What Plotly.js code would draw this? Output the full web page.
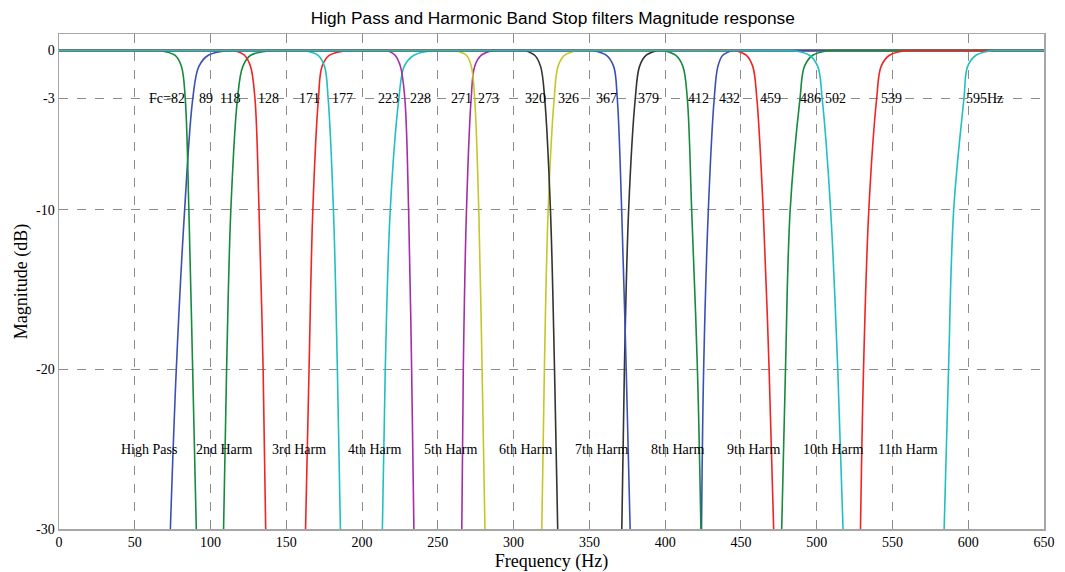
<!DOCTYPE html>
<html>
<head>
<meta charset="utf-8">
<script src="https://cdn.plot.ly/plotly-3.0.1.min.js"></script>
<style>html,body{margin:0;padding:0;background:#fff;}#chart{width:1065px;height:572px;}</style>
</head>
<body>
<div id="chart"></div>
<script>
const levels = [0, -0.3, -1, -3, -10, -20, -30];

// Edge frequencies (Hz) at the levels above (order: 0 dB -> -30 dB)
const hpRise   = [111.5, 98.5, 92.3, 88.3, 82.9, 77.4, 73.5];
const h2Fall   = [66, 76.5, 80.8, 83.3, 85.7, 88.2, 90.6];
const h2Rise   = [143, 126.5, 121.3, 117.8, 113.4, 110.6, 108.6];
const h3Fall   = [116, 122.4, 126.4, 129.3, 132, 134.7, 136.4];
const h3Rise   = [190.6, 178.5, 173.6, 171.2, 167.5, 165, 162.7];
const h4Fall   = [162, 170.8, 175.2, 177.6, 181.1, 183.7, 185.7];
const h4Rise   = [246.8, 234.2, 227.8, 224.3, 218.6, 215.3, 213.4];
const h5Fall   = [217, 221.8, 225.3, 228.2, 230.7, 232.7, 234.2];
const h5Rise   = [286.4, 278.7, 274.3, 272, 268.9, 266.8, 265.8];
const h6Fall   = [261, 268.8, 272.1, 274.3, 277, 279.2, 281.1];
const h6Rise   = [342.4, 333.7, 329.3, 326.8, 322.8, 320.3, 318.6];
const h7Fall   = [307.3, 313.9, 317.8, 320.5, 324.3, 327, 329.1];
const h7Rise   = [395.2, 387.5, 383.1, 380.3, 375.9, 373.1, 371.4];
const h8Fall   = [352.3, 361.1, 366, 368.4, 371.3, 374.3, 376.9];
const h8Rise   = [444.6, 438, 434.8, 432.4, 428.5, 425.4, 424];
const h9Fall   = [398.5, 406.9, 411.7, 414.6, 417.5, 421.3, 423.6];
const h9Rise   = [508.4, 497.4, 491.9, 489, 482.5, 479.4, 476.9];
const h10Fall  = [445.8, 453.5, 457.8, 460.5, 464.7, 468.6, 471.6];
const h10Rise  = [559, 548, 542.5, 539.6, 534.4, 530.9, 528.9];
const h11Fall  = [484.2, 495.2, 500.7, 503.6, 509.2, 513.9, 517.4];
const h11Rise  = [616.1, 605.1, 599.6, 597.2, 590.4, 587, 584.1];

const filterNames = ['High Pass', '2nd Harm', '3rd Harm', '4th Harm', '5th Harm', '6th Harm',
                     '7th Harm', '8th Harm', '9th Harm', '10th Harm', '11th Harm'];
const harmonicHz = [50, 100, 150, 200, 250, 300, 350, 400, 450, 500, 550];
const fallEdges = [null, h2Fall, h3Fall, h4Fall, h5Fall, h6Fall, h7Fall, h8Fall, h9Fall, h10Fall, h11Fall];
const riseEdges = [hpRise, h2Rise, h3Rise, h4Rise, h5Rise, h6Rise, h7Rise, h8Rise, h9Rise, h10Rise, h11Rise];

const fcValues = [82, 89, 118, 128, 171, 177, 223, 228, 271, 273, 320, 326, 367, 379, 412, 432, 459, 486, 502, 539, 595];
const fcLabels = ['Fc=82', '89', '118', '128', '171', '177', '223', '228', '271', '273', '320', '326',
                  '367', '379', '412', '432', '459', '486', '502', '539', '595Hz'];

const xTicks = [0, 50, 100, 150, 200, 250, 300, 350, 400, 450, 500, 550, 600, 650];
const yTicks = [0, -3, -10, -20, -30];
const yTickText = ['0', '-3', '-10', '-20', '-30'];

const colors = ['#3b50b4', '#168a3e', '#f02424', '#22bfc2', '#a32fa6', '#c6c62a', '#333333',
                '#3b50b4', '#168a3e', '#f02424', '#22bfc2'];

const traces = [];
function addLine(xs, ys, color, shape, name) {
  traces.push({
    x: xs, y: ys, type: 'scatter', mode: 'lines', name: name,
    line: {color: color, width: 1.6, shape: shape, smoothing: 1},
    hoverinfo: 'skip', showlegend: false
  });
}
for (let i = 0; i < filterNames.length; i++) {
  const f = fallEdges[i], r = riseEdges[i], c = colors[i];
  if (f) {
    addLine([0, f[0]], [0, 0], c, 'linear', filterNames[i]);
    addLine(f.slice(), levels.slice(), c, 'spline', filterNames[i]);
  }
  addLine(r.slice(), levels.slice(), c, 'spline', filterNames[i]);
  addLine([r[0], 650], [0, 0], c, 'linear', filterNames[i]);
}

const serif = 'Liberation Serif, Times New Roman, serif';
const annotations = [];
for (let i = 0; i < fcValues.length; i++) {
  const right = (i < 14 && i % 2 === 0);
  annotations.push({
    x: fcValues[i], y: -3, xref: 'x', yref: 'y', text: fcLabels[i], showarrow: false,
    xanchor: right ? 'right' : 'left', yanchor: 'middle', xshift: right ? 4 : 3,
    font: {family: serif, size: 14, color: '#000'}
  });
}
for (let i = 0; i < filterNames.length; i++) {
  annotations.push({
    x: harmonicHz[i] - 10, y: -25, xref: 'x', yref: 'y', text: filterNames[i], showarrow: false,
    xanchor: 'left', yanchor: 'middle', xshift: -1,
    font: {family: serif, size: 14, color: '#000'}
  });
}

const layout = {
  width: 1065, height: 572,
  margin: {l: 59, r: 21, t: 34, b: 43},
  paper_bgcolor: '#fff', plot_bgcolor: '#fff',
  title: {text: 'High Pass and Harmonic Band Stop filters Magnitude response',
          font: {family: 'Liberation Sans, Arial, sans-serif', size: 17.3, color: '#000'},
          x: 0.519, xanchor: 'center', y: 0.968, yanchor: 'middle', xref: 'container', yref: 'container'},
  xaxis: {
    range: [0, 650], tickvals: xTicks, ticktext: xTicks.map(String),
    showgrid: true, gridcolor: '#8c8c8c', griddash: 'dash', gridwidth: 1,
    zeroline: false, showline: true, linecolor: '#a6a6a6', linewidth: 1.5, mirror: true,
    ticks: '', tickfont: {family: serif, size: 14, color: '#000'},
    title: {text: 'Frequency (Hz)', font: {family: serif, size: 18, color: '#000'}, standoff: 6}
  },
  yaxis: {
    range: [-30, 1.03], tickvals: yTicks, ticktext: yTickText,
    showgrid: true, gridcolor: '#8c8c8c', griddash: 'dash', gridwidth: 1,
    zeroline: false, showline: true, linecolor: '#a6a6a6', linewidth: 1.5, mirror: true,
    ticks: '', tickfont: {family: serif, size: 14, color: '#000'},
    title: {text: 'Magnitude (dB)', font: {family: serif, size: 18, color: '#000'}, standoff: 3}
  },
  annotations: annotations
};

Plotly.newPlot('chart', traces, layout, {displayModeBar: false, staticPlot: true});
</script>
</body>
</html>
